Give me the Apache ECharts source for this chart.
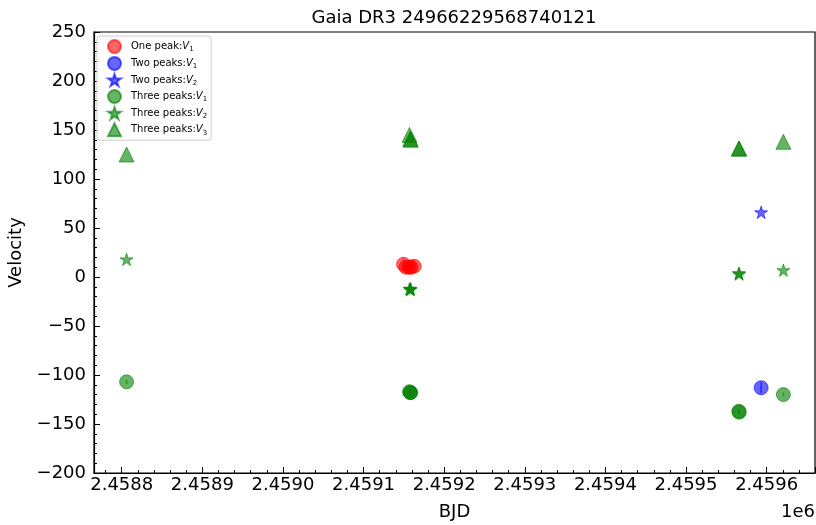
<!DOCTYPE html>
<html>
<head>
<meta charset="utf-8">
<script src="https://cdn.jsdelivr.net/npm/echarts@6/dist/echarts.min.js"></script>
<style>
html,body{margin:0;padding:0;background:#fff;}
#chart{width:816px;height:525px;}
</style>
</head>
<body>
<div id="chart"></div>
<script>
// ---- data (BJD, velocity) ----
const onePeakX  = [2459149.6, 2459152.7, 2459156.5, 2459159.0, 2459162.8];
const onePeakV1 = [13, 10, 10, 10, 11];

const twoPeakX  = [2459593.2];
const twoPeakV1 = [-113];
const twoPeakV2 = [66];

const threePeakX  = [2458806, 2459157, 2459158, 2459158.5, 2459565.5, 2459566, 2459620.8];
const threePeakV1 = [-107, -117, -118, -118, -137, -138, -120];
const threePeakV2 = [18, -12, -13, -12, 4, 3, 7];
const threePeakV3 = [125, 145, 141, 140, 131, 131, 138];

const xTickValues = [2458800, 2458900, 2459000, 2459100, 2459200, 2459300, 2459400, 2459500, 2459600];
const yTickValues = [-200, -150, -100, -50, 0, 50, 100, 150, 200, 250];

const titleText = 'Gaia DR3 24966229568740121';
const seriesNames = ['One peak:V1', 'Two peaks:V1', 'Two peaks:V2', 'Three peaks:V1', 'Three peaks:V2', 'Three peaks:V3'];

// ---- helpers ----
function pairs(xs, ys) { return xs.map((x, i) => [x, ys[i]]); }
function starPath() {
  const pts = [];
  for (let i = 0; i < 10; i++) {
    const r = i % 2 === 0 ? 1 : 0.381966;
    const a = -Math.PI / 2 + i * Math.PI / 5;
    pts.push((r * Math.cos(a)).toFixed(4) + ',' + (r * Math.sin(a)).toFixed(4));
  }
  return 'path://M' + pts.join('L') + 'Z';
}
const STAR = starPath();
const RED = '#ff0000', BLUE = '#0000ff', GREEN = '#008000';
const FONT = 'DejaVu Sans';

function markerSeries(name, data, color, symbol, size) {
  return {
    type: 'scatter', name: name, data: data, symbol: symbol, symbolSize: size,
    symbolKeepAspect: true,
    itemStyle: { color: color, opacity: 0.6, borderColor: color, borderWidth: 1 },
    emphasis: { disabled: true }, z: 3
  };
}
function errSeries(name, data, color, h) {
  return {
    type: 'scatter', name: name, data: data, symbol: 'rect', symbolSize: [1.6, h],
    itemStyle: { color: color, opacity: 0.6 },
    emphasis: { disabled: true }, z: 4
  };
}

const chart = echarts.init(document.getElementById('chart'), null, { renderer: 'canvas' });

const legendIcons = ['circle', 'circle', STAR, 'circle', STAR, 'triangle'];

const option = {
  animation: false,
  backgroundColor: '#fff',
  title: {
    text: titleText, left: 449, top: 4, textAlign: 'center',
    textStyle: { fontFamily: FONT, fontSize: 18, fontWeight: 'normal', color: '#000' }
  },
  grid: {
    left: 94, right: 1, top: 32, bottom: 52, containLabel: false, outerBoundsMode: 'none',
    show: true, borderColor: '#000', borderWidth: 1.2, backgroundColor: 'transparent'
  },
  legend: {
    orient: 'vertical', left: 97, top: 36,
    itemWidth: 13, itemHeight: 13, itemGap: 1.9,
    padding: [3, 4, 3, 10],
    symbolKeepAspect: true,
    backgroundColor: '#fff', borderColor: '#cccccc', borderWidth: 1, borderRadius: 3,
    data: seriesNames.map((n, i) => ({ name: n, icon: legendIcons[i] })),
    formatter: function (name) {
      const idx = name.lastIndexOf('V');
      return '{sp|}{t|' + name.slice(0, idx) + '}{v|V}{s|' + name.slice(idx + 1) + '}';
    },
    textStyle: {
      fontFamily: FONT, fontSize: 10, color: '#000',
      rich: {
        sp: { width: 5, lineHeight: 13 },
        t: { fontFamily: FONT, fontSize: 10, lineHeight: 13 },
        v: { fontFamily: FONT, fontSize: 10, fontStyle: 'italic', lineHeight: 13 },
        s: { fontFamily: FONT, fontSize: 7, lineHeight: 13, verticalAlign: 'bottom' }
      }
    },
    selectedMode: false
  },
  xAxis: {
    type: 'value', min: 2458765.6, max: 2459660, splitNumber: 9,
    name: 'BJD', nameLocation: 'middle', nameGap: 30,
    nameTextStyle: { fontFamily: FONT, fontSize: 18, color: '#000' },
    axisLine: { show: true, onZero: false, lineStyle: { color: '#000', width: 1.2 } },
    axisTick: { show: true, inside: true, length: 6, lineStyle: { color: '#000', width: 1 } },
    minorTick: { show: true, splitNumber: 5, length: 3, lineStyle: { color: '#000', width: 1 } },
    splitLine: { show: false },
    axisLabel: {
      fontFamily: FONT, fontSize: 18, color: '#000', margin: 3,
      showMinLabel: false, showMaxLabel: false,
      formatter: function (v) {
        if (xTickValues.indexOf(Math.round(v)) < 0 || Math.abs(v - Math.round(v)) > 1e-6) return '';
        return (v / 1e6).toFixed(4);
      }
    }
  },
  yAxis: {
    type: 'value', min: -200, max: 250, interval: 50,
    name: 'Velocity', nameLocation: 'middle', nameGap: 68, nameRotate: 90,
    nameTextStyle: { fontFamily: FONT, fontSize: 18, color: '#000' },
    axisLine: { show: true, onZero: false, lineStyle: { color: '#000', width: 1.2 } },
    axisTick: { show: true, inside: true, length: 6, lineStyle: { color: '#000', width: 1 } },
    minorTick: { show: true, splitNumber: 5, length: 3, lineStyle: { color: '#000', width: 1 } },
    splitLine: { show: false },
    axisLabel: {
      fontFamily: FONT, fontSize: 18, color: '#000', margin: 8,
      formatter: function (v) { return yTickValues.indexOf(v) >= 0 ? (v < 0 ? '\u2212' + (-v) : String(v)) : ''; }
    }
  },
  graphic: [{
    type: 'text', right: 1, top: 503,
    style: { text: '1e6', fontFamily: FONT, fontSize: 18, fill: '#000' }
  }],
  series: [
    markerSeries(seriesNames[0], pairs(onePeakX, onePeakV1), RED, 'circle', 14),
    errSeries(seriesNames[0], pairs(onePeakX, onePeakV1), RED, 12),
    markerSeries(seriesNames[1], pairs(twoPeakX, twoPeakV1), BLUE, 'circle', 14),
    errSeries(seriesNames[1], pairs(twoPeakX, twoPeakV1), BLUE, 11),
    markerSeries(seriesNames[2], pairs(twoPeakX, twoPeakV2), BLUE, STAR, 13),
    markerSeries(seriesNames[3], pairs(threePeakX, threePeakV1), GREEN, 'circle', 14),
    errSeries(seriesNames[3], pairs(threePeakX, threePeakV1), GREEN, 4),
    markerSeries(seriesNames[4], pairs(threePeakX, threePeakV2), GREEN, STAR, 13),
    markerSeries(seriesNames[5], pairs(threePeakX, threePeakV3), GREEN, 'triangle', 15)
  ]
};
chart.setOption(option);
</script>
</body>
</html>
